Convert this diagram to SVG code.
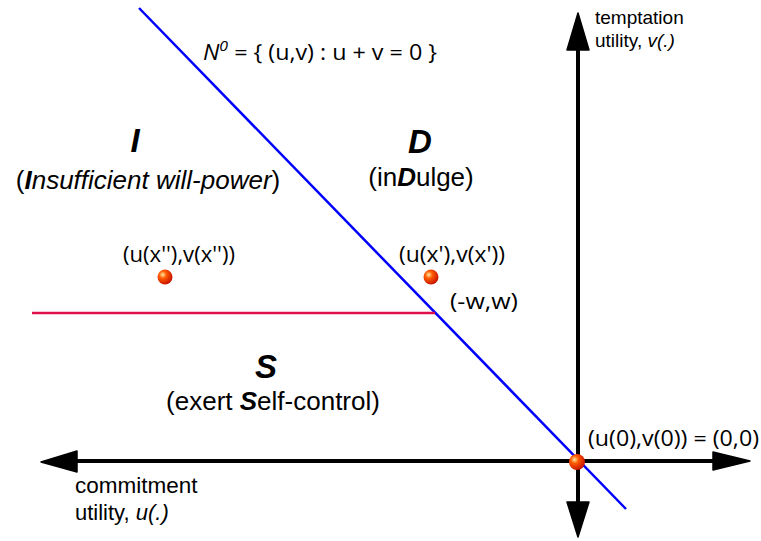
<svg xmlns="http://www.w3.org/2000/svg" width="761" height="541" viewBox="0 0 761 541">
<style>
.ax{stroke:#000;stroke-width:4;fill:none}
.ah{fill:#000;stroke:#000;stroke-width:1.5;stroke-linejoin:round}
.t{font-family:"Liberation Sans",Arial,sans-serif;fill:#000}
.c{font-family:"Open Sans","Liberation Sans",sans-serif;fill:#000;font-size:22px}
.big{font-family:"Liberation Sans",Arial,sans-serif;font-weight:bold;font-style:italic;font-size:33px;text-anchor:middle}
.lbl{font-family:"Liberation Sans",Arial,sans-serif;font-size:26px;text-anchor:middle}
.bi{font-weight:bold;font-style:italic}
</style>
<defs>
<radialGradient id="dot" cx="0.35" cy="0.35" r="0.7">
<stop offset="0" stop-color="#ffe9a0"/>
<stop offset="0.35" stop-color="#ff5a00"/>
<stop offset="1" stop-color="#c41000"/>
</radialGradient>
</defs>
<rect width="761" height="541" fill="#fff"/>
<g id="connectors">
<line class="ax" x1="75" y1="461" x2="716" y2="461"/>
<polygon class="ah" points="41,462 77,451 77,472"/>
<polygon class="ah" points="750,461 713,452 713,470"/>
<line class="ax" x1="578" y1="48" x2="578" y2="504"/>
<polygon class="ah" points="578,13 567,50 589,50"/>
<polygon class="ah" points="578,537 567,502 589,502"/>
<line x1="139" y1="8" x2="626" y2="509" stroke="#0000ff" stroke-width="2.5"/>
<line x1="32" y1="313" x2="435" y2="313" stroke="#e0104a" stroke-width="2.5"/>
</g>
<g id="origin">
<circle cx="577" cy="462" r="8" fill="url(#dot)"/>
<text class="c" x="588" y="446" textLength="171" lengthAdjust="spacingAndGlyphs">(u(0),v(0)) = (0,0)</text>
</g>
<g id="pointXpp">
<circle cx="165" cy="277" r="7.5" fill="url(#dot)"/>
<text class="c" x="123" y="262" textLength="112" lengthAdjust="spacingAndGlyphs">(u(x''),v(x''))</text>
</g>
<g id="pointXp">
<circle cx="431" cy="277" r="7.5" fill="url(#dot)"/>
<text class="c" x="399" y="262" textLength="106" lengthAdjust="spacingAndGlyphs">(u(x'),v(x'))</text>
</g>
<g id="w">
<text class="c" x="450" y="309" textLength="68" lengthAdjust="spacingAndGlyphs">(-w,w)</text>
</g>
<g id="N0">
<text class="c" x="203" y="60" textLength="234" lengthAdjust="spacingAndGlyphs"><tspan font-style="italic">N</tspan><tspan dy="-9" font-size="15" font-style="italic">0</tspan><tspan dy="9"> = { (u,v) : u + v = 0 }</tspan></text>
</g>
<g id="regionI">
<text class="big" x="135" y="152">I</text>
<text class="lbl" x="148" y="189">(<tspan class="bi">I</tspan><tspan font-style="italic">nsufficient will-power</tspan>)</text>
</g>
<g id="regionD">
<text class="big" x="420" y="153">D</text>
<text class="lbl" x="421" y="186" font-size="27.5">(in<tspan class="bi">D</tspan>ulge)</text>
</g>
<g id="regionS">
<text class="big" x="266" y="378">S</text>
<text class="lbl" x="273" y="410" font-size="25">(exert <tspan class="bi">S</tspan>elf-control)</text>
</g>
<g id="vaxis">
<text class="t" x="595" y="24" font-size="19">temptation</text>
<text class="t" x="595" y="47" font-size="19">utility, <tspan font-style="italic">v(.)</tspan></text>
</g>
<g id="uaxis">
<text class="t" x="75" y="493" font-size="22.5">commitment</text>
<text class="t" x="75" y="520" font-size="22">utility, <tspan font-style="italic">u(.)</tspan></text>
</g>
</svg>
